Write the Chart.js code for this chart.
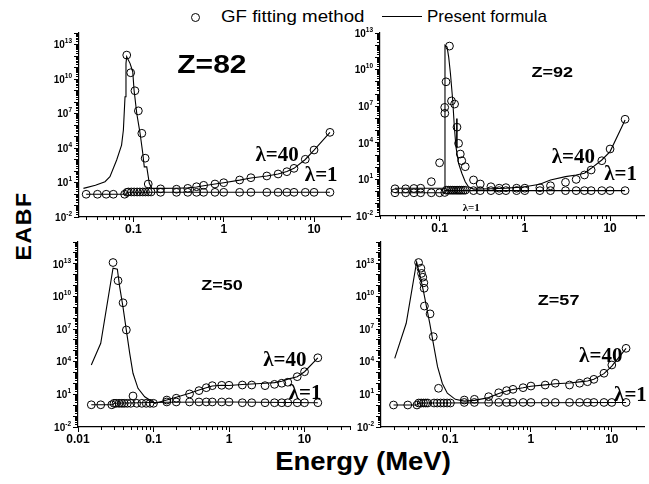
<!DOCTYPE html>
<html>
<head>
<meta charset="utf-8">
<script src="https://cdn.jsdelivr.net/npm/chart.js@4.4.0/dist/chart.umd.min.js"></script>
<style>
  body { margin: 0; background: #fff; }
  #page { position: relative; width: 649px; height: 484px; overflow: hidden; background: #fff;
          font-family: "Liberation Sans", Arial, sans-serif; color: #000; }
  #page canvas { position: absolute; }
  .txt { position: absolute; white-space: nowrap; line-height: 1; }
</style>
</head>
<body>
<div id="page">
  <div style="position:absolute;left:191px;top:13px;width:7px;height:7px;border:1px solid #000;border-radius:50%;"></div>
  <div class="txt" style="left:221px;top:8px;font-size:17px;transform:scaleX(1.1);transform-origin:left center;">GF fitting method</div>
  <div style="position:absolute;left:382px;top:16px;width:40px;height:1px;background:#000;"></div>
  <div class="txt" style="left:427px;top:8px;font-size:17px;">Present formula</div>
  <div class="txt" style="left:24px;top:226px;font-size:22px;font-weight:bold;letter-spacing:1.5px;transform:translate(-50%,-50%) rotate(-90deg) scaleX(1.05);">EABF</div>
  <div class="txt" style="left:363px;top:461px;font-size:25px;font-weight:bold;transform:translate(-50%,-50%) scaleX(1.1);">Energy (MeV)</div>
</div>
<script>
// ---- Z=82 ----
const pbGF40E = [0.0844, 0.0934, 0.104, 0.1135, 0.124, 0.135, 0.146, 0.2, 0.3, 0.4, 0.5, 0.6, 0.8, 1, 1.5, 2, 3, 4, 5, 6, 8, 10, 15];
const pbGF40  = [1.2e12, 3.5e10, 9.5e8, 1.7e7, 1.9e5, 1.3e3, 7.4, 2.8, 2.6, 3.1, 4.3, 5.7, 7.4, 9.6, 16.5, 26, 37, 55, 87, 170, 1040, 6700, 2.3e5];
const pbGF1E  = [0.03, 0.04, 0.05, 0.06, 0.08, 0.085, 0.088, 0.095, 0.102, 0.11, 0.118, 0.127, 0.136, 0.146, 0.157, 0.2, 0.3, 0.4, 0.5, 0.6, 0.8, 1, 1.5, 2, 3, 4, 5, 6, 8, 10, 15];
const pbGF1   = [0.95, 0.95, 0.95, 0.95, 0.95, 1.4, 1.5, 1.5, 1.5, 1.5, 1.5, 1.5, 1.5, 1.5, 1.5, 1.4, 1.4, 1.4, 1.4, 1.4, 1.4, 1.4, 1.4, 1.4, 1.4, 1.4, 1.4, 1.4, 1.4, 1.4, 1.4];
const pbFit40E = [0.028, 0.038, 0.0485, 0.055, 0.0653, 0.074, 0.0775, 0.0808, 0.0828, 0.0843, 0.0918, 0.0984, 0.1017, 0.109, 0.1186, 0.127, 0.132, 0.1406, 0.15, 0.16, 0.2, 0.3, 0.4, 0.5, 0.6, 0.8, 1, 1.5, 2, 3, 4, 5, 6, 8, 10, 15];
const pbFit40  = [3.1, 5.7, 11.7, 32, 900, 1.8e4, 3.7e5, 2.9e8, 2.3e11, 8.7e11, 2.3e11, 4.3e10, 1.1e9, 1e7, 1.9e5, 3.5e3, 230, 230, 8.5, 3.1, 3.1, 3.2, 3.4, 4, 5.2, 7.4, 9.6, 16, 25, 37, 55, 90, 170, 1000, 6500, 2.3e5];
const pbFit1E = [0.03, 0.084, 0.0845, 15];
const pbFit1  = [0.95, 0.95, 1.4, 1.4];

// ---- Z=92 ----
const uGF40E = [0.03, 0.04, 0.05, 0.06, 0.08, 0.1, 0.1148, 0.1152, 0.119, 0.1306, 0.138, 0.15, 0.16, 0.167, 0.175, 0.182, 0.2, 0.25, 0.3, 0.4, 0.5, 0.6, 0.8, 1, 1.5, 2, 3, 4, 5, 6, 8, 10, 15];
const uGF40  = [1.7, 1.7, 1.8, 1.9, 6.5, 230, 8e6, 2.6e6, 1e9, 8.5e11, 2.7e7, 1.5e7, 1.9e5, 9e3, 1.2e3, 340, 110, 9, 4.2, 2.5, 1.9, 2.1, 1.9, 1.9, 2.1, 3, 5.8, 10, 23, 59, 340, 3100, 8.5e5];
const uGF1E  = [0.03, 0.04, 0.05, 0.06, 0.08, 0.1, 0.115, 0.12, 0.127, 0.134, 0.141, 0.148, 0.156, 0.164, 0.172, 0.18, 0.19, 0.2, 0.25, 0.3, 0.4, 0.5, 0.6, 0.8, 1, 1.5, 2, 3, 4, 5, 6, 8, 10, 15];
const uGF1   = [0.8, 0.8, 0.8, 0.8, 0.8, 0.8, 0.85, 1.3, 1.3, 1.3, 1.3, 1.3, 1.3, 1.3, 1.3, 1.3, 1.3, 1.3, 1.2, 1.2, 1.2, 1.2, 1.2, 1.2, 1.2, 1.2, 1.2, 1.2, 1.2, 1.2, 1.2, 1.2, 1.2, 1.2];
const uFit40E = [0.03, 0.1154, 0.1157, 0.1225, 0.128, 0.134, 0.1425, 0.149, 0.1555, 0.167, 0.1824, 0.2, 0.218, 0.25, 0.4, 0.6, 0.8, 1, 1.5, 2, 3, 4, 5, 6, 8, 10, 15];
const uFit40  = [1.9, 1.9, 1e12, 7e11, 1e11, 5e9, 3.2e7, 2.1e5, 4.8e3, 210, 32, 6.5, 2.5, 1.6, 1.7, 1.9, 2.2, 2.5, 4, 9, 17, 23, 32, 81, 390, 1900, 7.4e5];
const uFit1E = [0.03, 0.1154, 0.1157, 15];
const uFit1  = [0.8, 0.8, 1.2, 1.2];
const uMarkE = [0.1595, 0.1595];
const uMark  = [1e6, 3.6e3];

// ---- Z=50 ----
const snGF40E = [0.0291, 0.0339, 0.0395, 0.0437, 0.0535, 0.15, 0.2, 0.3, 0.4, 0.5, 0.6, 0.8, 1, 1.5, 2, 3, 4, 5, 6, 8, 10, 15];
const snGF40  = [1.3e13, 2.8e11, 2.6e9, 8.3e6, 7.1, 3, 4.4, 11, 22, 41, 63, 68, 68, 72, 72, 63, 83, 105, 130, 420, 1200, 2.3e4];
const snGF1E  = [0.015, 0.02, 0.028, 0.03, 0.032, 0.035, 0.038, 0.041, 0.045, 0.05, 0.06, 0.07, 0.08, 0.09, 0.1, 0.15, 0.2, 0.3, 0.4, 0.5, 0.6, 0.8, 1, 1.5, 2, 3, 4, 5, 6, 8, 10, 15];
const snGF1   = [1.1, 1.1, 1.1, 1.5, 1.5, 1.5, 1.5, 1.5, 1.5, 1.5, 1.5, 1.5, 1.5, 1.5, 1.5, 2, 2, 2, 2, 2, 2, 2, 2, 1.7, 1.7, 1.7, 1.7, 1.7, 1.7, 1.7, 1.7, 1.7];
const snFit40E = [0.015, 0.02, 0.0291, 0.0332, 0.0356, 0.0394, 0.0436, 0.0484, 0.0535, 0.0623, 0.0764, 0.104, 0.15, 0.2, 0.3, 0.4, 0.5, 0.6, 0.8, 1, 1.5, 2, 3, 4, 5, 6, 8, 10, 15];
const snFit40  = [5e3, 4.9e5, 3.9e12, 3.2e12, 8e10, 1.1e9, 8.3e6, 5.9e4, 870, 36, 6, 1.5, 3, 5.4, 12.6, 25, 41, 58, 68, 65, 80, 90, 105, 120, 160, 250, 420, 1200, 2.3e4];
const snFit1E = [0.015, 0.029, 0.03, 0.15, 1, 15];
const snFit1  = [1.1, 1.1, 1.5, 1.9, 2, 1.7];

// ---- Z=57 ----
const laGF40E = [0.0408, 0.0436, 0.0444, 0.046, 0.0474, 0.0478, 0.0482, 0.0566, 0.062, 0.072, 0.15, 0.2, 0.3, 0.4, 0.5, 0.6, 0.8, 1, 1.5, 2, 3, 4, 5, 6, 8, 10, 15];
const laGF40  = [1.3e13, 3.9e12, 1.3e12, 5.8e11, 1.8e11, 5.6e10, 1.3e9, 2.5e8, 2e6, 36, 3, 3.5, 6.1, 14, 22, 29, 41, 58, 72, 105, 72, 105, 145, 240, 870, 5e3, 1.7e5];
const laGF1E  = [0.02, 0.03, 0.039, 0.041, 0.044, 0.047, 0.05, 0.053, 0.0634, 0.0694, 0.0764, 0.0836, 0.092, 0.101, 0.15, 0.2, 0.3, 0.4, 0.5, 0.6, 0.8, 1, 1.5, 2, 3, 4, 5, 6, 8, 10, 15];
const laGF1   = [1.05, 1.05, 1.05, 1.6, 1.6, 1.6, 1.6, 1.6, 1.6, 1.6, 1.6, 1.6, 1.6, 1.6, 1.8, 1.8, 1.8, 1.8, 1.8, 1.8, 1.8, 1.8, 1.8, 1.8, 1.8, 1.8, 1.8, 1.8, 1.8, 1.8, 1.8];
const laFit40E = [0.0207, 0.0287, 0.0386, 0.043, 0.0474, 0.0561, 0.062, 0.07, 0.0803, 0.0925, 0.116, 0.15, 0.2, 0.3, 0.4, 0.5, 0.6, 0.8, 1, 1.5, 2, 3, 4, 5, 6, 8, 10, 15];
const laFit40  = [2e4, 3.4e7, 1.5e13, 6e11, 2e10, 3.4e7, 5e5, 3.5e3, 100, 12.6, 3.5, 2.4, 2.8, 5, 12, 20, 28, 40, 55, 75, 95, 110, 140, 170, 240, 800, 4000, 1.7e5];
const laFit1E = [0.02, 0.039, 0.041, 15];
const laFit1  = [1.05, 1.05, 1.6, 1.8];

// tick labels
const yExponents = [-2, 1, 4, 7, 10, 13];
const xLabelsTop = [0.1, 1, 10];
const xLabelsBL  = [0.01, 0.1, 1, 10];

const SANS = '"Liberation Sans", Arial, sans-serif';
const SERIF = '"Liberation Serif", "Times New Roman", serif';
const LAM = 'bold 21px ' + SERIF;

// panel layout: plot area left, top, width, height (page pixels)
const panels = [
  { box: [79, 33, 271, 184], padR: 8, xr: [0.025, 25], yr: [1e-2, 1e14],
    gf40: [pbGF40E, pbGF40], gf1: [pbGF1E, pbGF1], fit40: [pbFit40E, pbFit40], fit1: [pbFit1E, pbFit1],
    xLabels: xLabelsTop,
    notes: [
      { t: 'Z=82', x: 0.74, y: 1.3e11, font: 'bold 25px ' + SANS, sx: 1.2 },
      { t: 'λ=40', x: 3.9, y: 2e3, font: LAM, sx: 1 },
      { t: 'λ=1', x: 12, y: 37, font: LAM, sx: 1 }
    ] },
  { box: [380, 33, 269, 183], padR: 0, xr: [0.02, 25], yr: [1e-2, 1e13],
    gf40: [uGF40E, uGF40], gf1: [uGF1E, uGF1], fit40: [uFit40E, uFit40], fit1: [uFit1E, uFit1],
    extra: [uMarkE, uMark],
    xLabels: xLabelsTop,
    notes: [
      { t: 'Z=92', x: 2.1, y: 5.3e9, font: 'bold 15px ' + SANS, sx: 1.2 },
      { t: 'λ=40', x: 3.7, y: 560, font: LAM, sx: 1 },
      { t: 'λ=1', x: 13.3, y: 23, font: LAM, sx: 1 },
      { t: 'λ=1', x: 0.235, y: 0.045, font: 'bold 11px ' + SERIF, sx: 1 }
    ] },
  { box: [78, 242, 272, 185], padR: 8, xr: [0.01, 40], yr: [1e-2, 1e15],
    gf40: [snGF40E, snGF40], gf1: [snGF1E, snGF1], fit40: [snFit40E, snFit40], fit1: [snFit1E, snFit1],
    xLabels: xLabelsBL,
    notes: [
      { t: 'Z=50', x: 0.81, y: 9e10, font: 'bold 15px ' + SANS, sx: 1.2 },
      { t: 'λ=40', x: 5.5, y: 1.4e4, font: LAM, sx: 1 },
      { t: 'λ=1', x: 10.2, y: 13, font: LAM, sx: 1 }
    ] },
  { box: [381, 242, 268, 185], padR: 0, xr: [0.014, 25], yr: [1e-2, 1e15],
    gf40: [laGF40E, laGF40], gf1: [laGF1E, laGF1], fit40: [laFit40E, laFit40], fit1: [laFit1E, laFit1],
    xLabels: xLabelsTop,
    notes: [
      { t: 'Z=57', x: 2.2, y: 3.8e9, font: 'bold 15px ' + SANS, sx: 1.2 },
      { t: 'λ=40', x: 7.3, y: 2.7e4, font: LAM, sx: 1 },
      { t: 'λ=1', x: 17, y: 7.1, font: LAM, sx: 1 }
    ] }
];

function pts(xs, ys) {
  return xs.map((x, i) => ({ x: x, y: ys[i] }));
}

function logVals(lo, hi, ks) {
  const out = [];
  for (let n = Math.floor(Math.log10(lo)) - 1; n <= Math.ceil(Math.log10(hi)); n++) {
    ks.forEach(k => {
      const v = k * Math.pow(10, n);
      if (v >= lo * 0.999 && v <= hi * 1.001) out.push(v);
    });
  }
  return out;
}

// minor ticks, tick labels and the text notes
const panelDecor = {
  id: 'panelDecor',
  afterDraw(chart, args, o) {
    const ctx = chart.ctx;
    const xs = chart.scales.x, ys = chart.scales.y;
    const a = chart.chartArea;
    ctx.save();
    ctx.strokeStyle = '#000';
    ctx.fillStyle = '#000';
    ctx.lineWidth = 1;
    ctx.beginPath();
    logVals(xs.min, xs.max, [2, 3, 4, 5, 6, 7, 8, 9]).forEach(v => {
      const px = Math.round(xs.getPixelForValue(v)) + 0.5;
      ctx.moveTo(px, a.bottom);
      ctx.lineTo(px, a.bottom + 3);
    });
    logVals(ys.min, ys.max, [2, 3, 4, 5, 6, 7, 8, 9]).forEach(v => {
      const py = Math.round(ys.getPixelForValue(v)) + 0.5;
      ctx.moveTo(a.left - 3, py);
      ctx.lineTo(a.left, py);
    });
    ctx.stroke();

    // y labels 10^n
    yExponents.forEach(p => {
      const y = ys.getPixelForValue(Math.pow(10, p));
      ctx.font = 'bold 6.5px ' + SANS;
      const ew = ctx.measureText(String(p)).width;
      ctx.font = 'bold 10px ' + SANS;
      const bw = ctx.measureText('10').width;
      const right = a.left - 7;
      ctx.textAlign = 'left';
      ctx.textBaseline = 'middle';
      ctx.fillText('10', right - ew - bw, y + 1);
      ctx.font = 'bold 6.5px ' + SANS;
      ctx.fillText(String(p), right - ew, y - 3);
    });

    // x labels
    ctx.font = 'bold 12px ' + SANS;
    ctx.textAlign = 'center';
    ctx.textBaseline = 'top';
    o.xLabels.forEach(v => {
      ctx.fillText(String(v), xs.getPixelForValue(v), a.bottom + 7);
    });

    // notes
    ctx.textBaseline = 'middle';
    o.notes.forEach(n => {
      ctx.save();
      ctx.translate(xs.getPixelForValue(n.x), ys.getPixelForValue(n.y));
      ctx.scale(n.sx, 1);
      ctx.font = n.font;
      ctx.textAlign = 'center';
      ctx.fillText(n.t, 0, 0);
      ctx.restore();
    });
    ctx.restore();
  }
};

const page = document.getElementById('page');
const PAD_T = 8, Y_W = 40, X_H = 24;

panels.forEach(p => {
  const [left, top, w, h] = p.box;
  const cv = document.createElement('canvas');
  cv.width = Y_W + w + p.padR;
  cv.height = PAD_T + h + X_H;
  cv.style.left = (left - Y_W) + 'px';
  cv.style.top = (top - PAD_T) + 'px';
  page.appendChild(cv);

  const lineStyle = { showLine: true, pointRadius: 0, pointHoverRadius: 0, borderColor: '#000', borderWidth: 1.1, fill: false, tension: 0 };
  const circleStyle = { showLine: false, pointRadius: 3.9, pointBorderWidth: 1, pointBorderColor: '#000',
                        pointBackgroundColor: 'rgba(0,0,0,0)', clip: false };
  const datasets = [
    Object.assign({ label: 'fit40', data: pts(p.fit40[0], p.fit40[1]) }, lineStyle),
    Object.assign({ label: 'fit1', data: pts(p.fit1[0], p.fit1[1]) }, lineStyle),
    Object.assign({ label: 'gf40', data: pts(p.gf40[0], p.gf40[1]) }, circleStyle),
    Object.assign({ label: 'gf1', data: pts(p.gf1[0], p.gf1[1]) }, circleStyle)
  ];
  if (p.extra) {
    datasets.push(Object.assign({ label: 'mark', data: pts(p.extra[0], p.extra[1]) }, lineStyle, { borderWidth: 1.6 }));
  }

  new Chart(cv.getContext('2d'), {
    type: 'scatter',
    data: { datasets: datasets },
    options: {
      responsive: false,
      animation: false,
      devicePixelRatio: 1,
      events: [],
      layout: { padding: { top: PAD_T, right: p.padR, left: 0, bottom: 0 } },
      plugins: {
        legend: { display: false },
        tooltip: { enabled: false },
        panelDecor: { xLabels: p.xLabels, notes: p.notes }
      },
      scales: {
        x: {
          type: 'logarithmic', min: p.xr[0], max: p.xr[1], bounds: 'data',
          border: { color: '#000', width: 1.2 },
          grid: { drawOnChartArea: false, color: '#000', tickLength: 5 },
          ticks: { display: false },
          afterBuildTicks: s => { s.ticks = logVals(p.xr[0], p.xr[1], [1]).map(v => ({ value: v })); },
          afterFit: s => { s.height = X_H; }
        },
        y: {
          type: 'logarithmic', min: p.yr[0], max: p.yr[1], bounds: 'data',
          border: { color: '#000', width: 1.2 },
          grid: { drawOnChartArea: false, color: '#000', tickLength: 5 },
          ticks: { display: false },
          afterBuildTicks: s => { s.ticks = logVals(p.yr[0], p.yr[1], [1]).map(v => ({ value: v })); },
          afterFit: s => { s.width = Y_W; }
        }
      }
    },
    plugins: [panelDecor]
  });
});
</script>
</body>
</html>
